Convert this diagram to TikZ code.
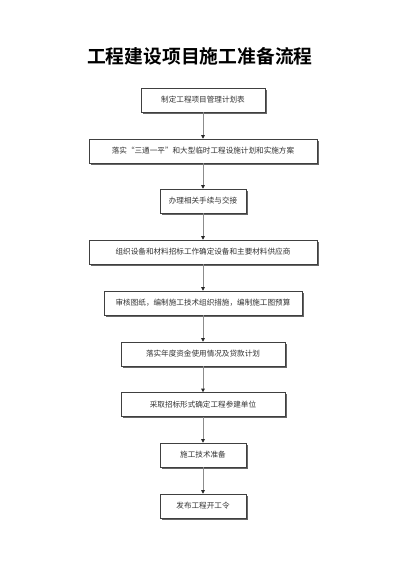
\documentclass[tikz,border=0pt]{standalone}
\usepackage{fontspec}
\newfontfamily\cjk{Noto Sans CJK SC}
\newfontfamily\cjkb{Noto Sans CJK SC Bold}
\usetikzlibrary{arrows.meta,shadows}
\tikzset{
  stepbox/.style={draw=black!75, line width=0.6pt, fill=white, minimum height=24pt, inner sep=0pt,
    font=\cjk\fontsize{7.6pt}{9pt}\selectfont, text=black!80,
    drop shadow={shadow xshift=1.5pt, shadow yshift=-1.5pt, fill=black!60, opacity=1}},
  link/.style={draw=black!45, line width=0.6pt, -{Triangle[length=3.5pt,width=3.5pt,fill=black!85,color=black!85]}}
}
\begin{document}
\begin{tikzpicture}[x=1pt,y=1pt]
\useasboundingbox[fill=white] (0,0) rectangle (400,-566);
\node[font=\cjkb\fontsize{18.8pt}{22pt}\selectfont] (title) at (200,-56) {工程建设项目施工准备流程};
\node[stepbox, minimum width=124pt] (s1) at (203,-100) {制定工程项目管理计划表};
\node[stepbox, minimum width=228pt] (s2) at (203,-151) {落实“三通一平”和大型临时工程设施计划和实施方案};
\node[stepbox, minimum width=86pt] (s3) at (203,-201) {办理相关手续与交接};
\node[stepbox, minimum width=228pt] (s4) at (203,-252) {组织设备和材料招标工作确定设备和主要材料供应商};
\node[stepbox, minimum width=198pt] (s5) at (203,-303) {审核图纸，编制施工技术组织措施，编制施工图预算};
\node[stepbox, minimum width=164pt] (s6) at (203,-354) {落实年度资金使用情况及贷款计划};
\node[stepbox, minimum width=164pt] (s7) at (203,-404.5) {采取招标形式确定工程参建单位};
\node[stepbox, minimum width=86pt] (s8) at (203,-455) {施工技术准备};
\node[stepbox, minimum width=86pt] (s9) at (203,-506) {发布工程开工令};
\foreach \a/\b in {s1/s2,s2/s3,s3/s4,s4/s5,s5/s6,s6/s7,s7/s8,s8/s9}
  \draw[link] (\a.south) -- (\b.north);
\end{tikzpicture}
\end{document}
